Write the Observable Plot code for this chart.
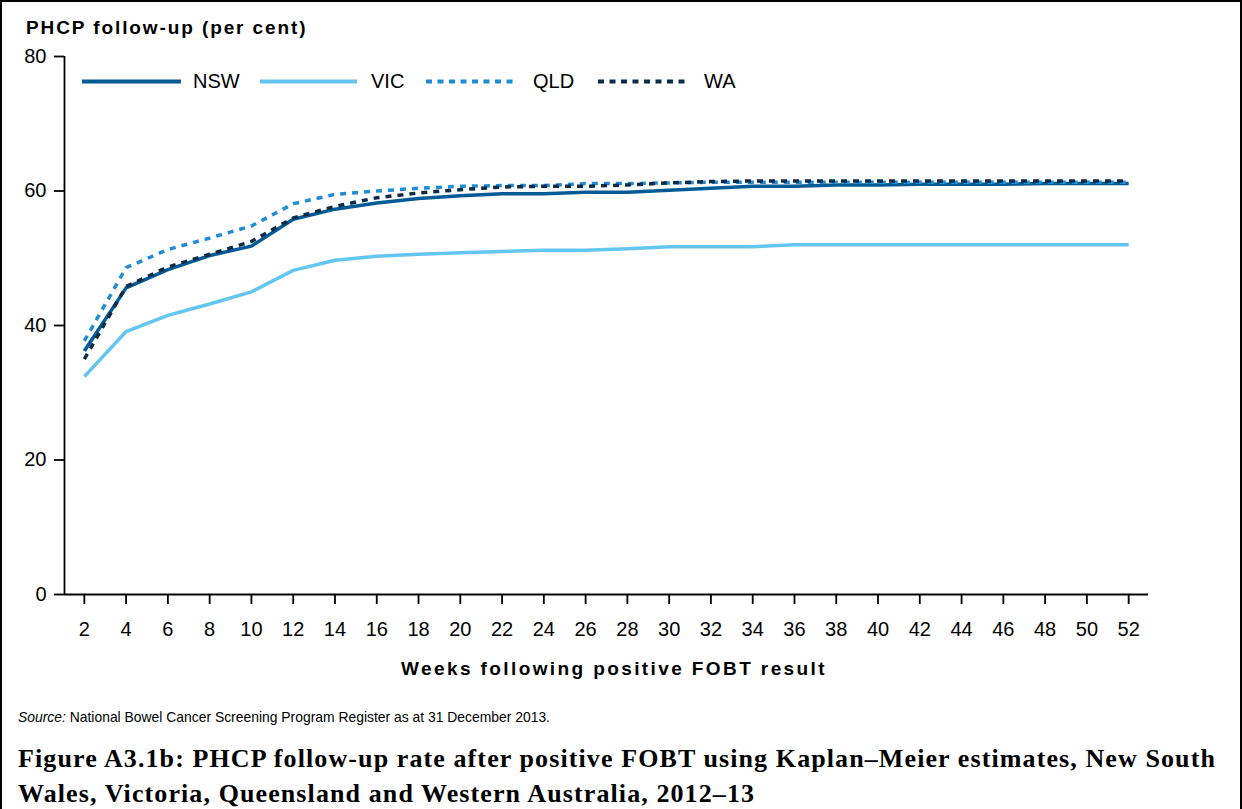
<!DOCTYPE html>
<html>
<head>
<meta charset="utf-8">
<script src="https://cdn.jsdelivr.net/npm/d3@7"></script>
<script src="https://cdn.jsdelivr.net/npm/@observablehq/plot@0.6"></script>
<style>
  html, body { margin: 0; padding: 0; background: #fff; }
  #wrap { position: relative; width: 1242px; height: 809px; overflow: hidden; font-family: "Liberation Sans", Arial, sans-serif; color: #000; }
  #border { position: absolute; left: 0; top: 0; width: 1238px; height: 809px; border-top: 2px solid #000; border-left: 2px solid #000; border-right: 2px solid #000; box-sizing: content-box; }
  #chart { position: absolute; left: 0; top: 0; }
  .txt { position: absolute; white-space: nowrap; line-height: 1; }
  #ytitle { left: 26px; top: 17.5px; font-size: 19px; font-weight: bold; letter-spacing: 1.9px; }
  #xtitle { left: 72px; width: 1084px; text-align: center; top: 658.5px; font-size: 19px; font-weight: bold; letter-spacing: 2.4px; }
  #source { left: 18px; top: 711px; font-size: 13.9px; }
  .cap { left: 18px; font-family: "Liberation Serif", "Times New Roman", serif; font-weight: bold; font-size: 26px; }
  #cap1 { top: 746px; }
  #cap2 { top: 781px; }
  .leg { position: absolute; top: 71px; font-size: 20px; line-height: 1; white-space: nowrap; }
  .legline { position: absolute; top: 76px; }
</style>
</head>
<body>
<div id="wrap">
  <div id="border"></div>
  <div id="chart"></div>
  <div id="legend"></div>
  <div class="txt" id="ytitle">PHCP follow-up (per cent)</div>
  <div class="txt" id="xtitle">Weeks following positive FOBT result</div>
  <div class="txt" id="source"><i>Source:</i> National Bowel Cancer Screening Program Register as at 31 December 2013.</div>
  <div class="txt cap" id="cap1"><span>Figure A3.1b: PHCP follow-up rate after positive FOBT using Kaplan–Meier estimates, New South</span></div>
  <div class="txt cap" id="cap2"><span>Wales, Victoria, Queensland and Western Australia, 2012–13</span></div>
</div>
<script>
// ---- Data ----
const weeks = [2,4,6,8,10,12,14,16,18,20,22,24,26,28,30,32,34,36,38,40,42,44,46,48,50,52];
const states = ["NSW", "VIC", "QLD", "WA"];
const nsw = [36.2,45.6,48.3,50.4,51.8,55.8,57.3,58.2,58.9,59.3,59.6,59.6,59.8,59.8,60.1,60.4,60.7,60.7,60.9,60.9,61.0,61.0,61.0,61.1,61.1,61.1];
const vic = [32.4,39.1,41.5,43.2,45.0,48.2,49.7,50.3,50.6,50.8,51.0,51.2,51.2,51.4,51.7,51.7,51.7,52.0,52.0,52.0,52.0,52.0,52.0,52.0,52.0,52.0];
const qld = [37.7,48.6,51.3,53.0,54.8,58.1,59.5,60.0,60.4,60.7,60.8,60.8,61.1,61.1,61.2,61.3,61.3,61.3,61.3,61.3,61.3,61.3,61.3,61.3,61.3,61.3];
const wa  = [35.0,45.8,48.7,50.6,52.5,56.0,57.7,59.0,59.7,60.2,60.6,60.7,60.7,60.9,61.2,61.4,61.5,61.5,61.5,61.5,61.5,61.5,61.5,61.5,61.5,61.5];
const yTicks = [0, 20, 40, 60, 80];
const xTicks = weeks;

// ---- Styles ----
const colors = {NSW: "#005b96", VIC: "#62c6f1", QLD: "#1f8dd6", WA: "#0c2b46"};
const dashes = {NSW: null, VIC: null, QLD: "6,6", WA: "6,6"};

const series = [nsw, vic, qld, wa];
const rows = states.flatMap((s, i) => series[i].map((v, j) => ({state: s, week: weeks[j], value: v})));

const xDomain = [1.05, 52.95];

const lineMarks = states.map(s => Plot.line(rows.filter(d => d.state === s), {
  x: "week", y: "value",
  stroke: colors[s], strokeWidth: 3.5,
  strokeDasharray: dashes[s] || undefined,
  strokeLinecap: "butt", strokeLinejoin: "round"
}));

const chart = Plot.plot({
  width: 1242, height: 690,
  marginLeft: 64, marginRight: 94, marginTop: 56, marginBottom: 96,
  style: {fontFamily: "'Liberation Sans', Arial, sans-serif", fontSize: "20px", color: "#000", background: "transparent", overflow: "visible"},
  x: {type: "linear", domain: xDomain},
  y: {domain: [0, 80]},
  marks: [
    Plot.axisX({ticks: xTicks, tickSize: 10, tickPadding: 17, tickFormat: d => String(d), label: null, strokeWidth: 1.8, fontSize: 20}),
    Plot.axisY({ticks: yTicks, tickSize: 10, tickPadding: 8, label: null, strokeWidth: 1.8, fontSize: 20}),
    ...lineMarks,
    Plot.ruleY([0], {strokeWidth: 1.8, stroke: "#000"}),
    Plot.ruleX([xDomain[0]], {strokeWidth: 1.8, stroke: "#000"})
  ]
});
document.getElementById("chart").appendChild(chart);

// ---- Legend (HTML overlay) ----
const legendLayout = {NSW: [82, 99, 193], VIC: [260, 97, 371], QLD: [426, 89, 533], WA: [598, 90, 704]};
const legend = document.getElementById("legend");
states.forEach(s => {
  const [lx, lw, tx] = legendLayout[s];
  const svgNS = "http://www.w3.org/2000/svg";
  const svg = document.createElementNS(svgNS, "svg");
  svg.setAttribute("width", lw); svg.setAttribute("height", 10);
  svg.setAttribute("class", "legline");
  svg.style.left = lx + "px";
  const ln = document.createElementNS(svgNS, "line");
  ln.setAttribute("x1", 0); ln.setAttribute("x2", lw);
  ln.setAttribute("y1", 5.5); ln.setAttribute("y2", 5.5);
  ln.setAttribute("stroke", colors[s]); ln.setAttribute("stroke-width", 4);
  if (dashes[s]) ln.setAttribute("stroke-dasharray", "6,5.5");
  svg.appendChild(ln);
  legend.appendChild(svg);
  const t = document.createElement("div");
  t.className = "leg"; t.style.left = tx + "px"; t.textContent = s;
  legend.appendChild(t);
});

// ---- Fit caption first line to the reference width ----
(function fit() {
  const span = document.querySelector("#cap1 span");
  const w = span.getBoundingClientRect().width;
  const n = span.textContent.length;
  const ls = (1198 - w) / n;
  document.getElementById("cap1").style.letterSpacing = ls + "px";
  document.getElementById("cap2").style.letterSpacing = ls + "px";
})();
</script>
</body>
</html>
